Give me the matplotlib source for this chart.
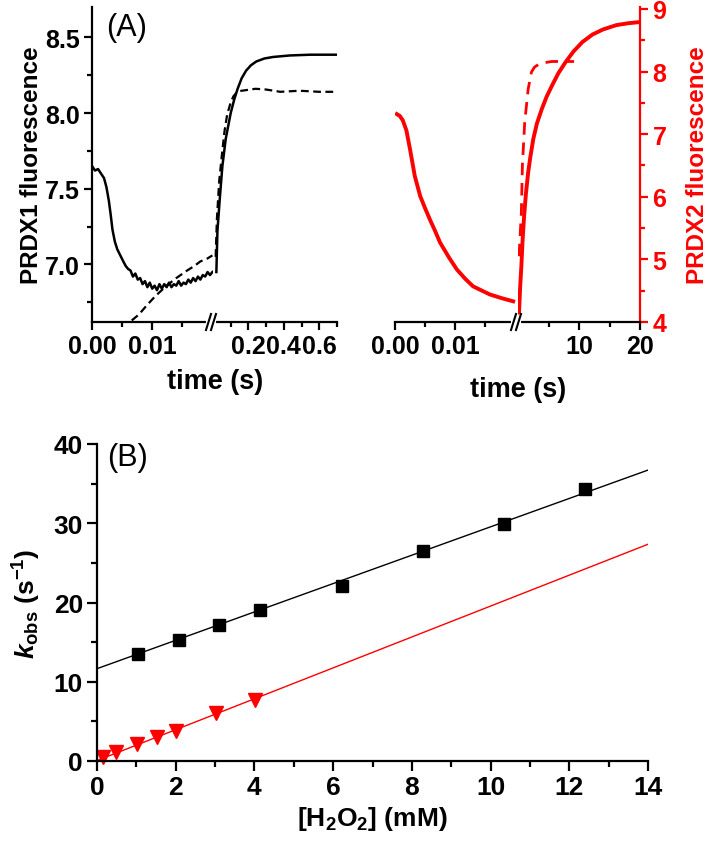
import numpy as np
import matplotlib.pyplot as plt
from matplotlib.ticker import FixedLocator, MultipleLocator, FormatStrFormatter

plt.rcParams['font.family'] = ['Liberation Sans', 'DejaVu Sans']
plt.rcParams['mathtext.fontset'] = 'custom'
plt.rcParams['mathtext.rm'] = 'Liberation Sans:bold'
plt.rcParams['mathtext.it'] = 'Liberation Sans:italic:bold'
plt.rcParams['mathtext.bf'] = 'Liberation Sans:bold'

# ---- panel A, PRDX1 (black) ----
# early segment (0 - 0.02 s)
p1_t_early = [0.0, 0.0005, 0.001, 0.0015, 0.002, 0.0024, 0.0028, 0.0031, 0.0034, 0.0038, 0.0042,
              0.0047, 0.0052, 0.0056,
              0.0060, 0.0064, 0.0068, 0.0072, 0.0076, 0.0080, 0.0084, 0.0088, 0.0092, 0.0096,
              0.0100, 0.0104, 0.0108, 0.0112, 0.0116, 0.0120, 0.0124, 0.0128, 0.0132, 0.0136,
              0.0140, 0.0144, 0.0148, 0.0152, 0.0156, 0.0160, 0.0164, 0.0168, 0.0172, 0.0176,
              0.0180, 0.0184, 0.0188, 0.0192, 0.0196, 0.0200]
p1_solid_early = [7.65, 7.62, 7.63, 7.60, 7.57, 7.51, 7.42, 7.33, 7.23, 7.15, 7.10,
                  7.06, 7.02, 6.99,
                  6.97, 6.96, 6.92, 6.94, 6.90, 6.91, 6.87, 6.89, 6.85, 6.88,
                  6.84, 6.86, 6.83, 6.87, 6.84, 6.87, 6.85, 6.88, 6.85, 6.87,
                  6.86, 6.89, 6.86, 6.88, 6.87, 6.90, 6.88, 6.91, 6.89, 6.92,
                  6.90, 6.93, 6.92, 6.95, 6.93, 6.95]
p1_t_dash_early = [0.0066, 0.0078, 0.0091, 0.0105, 0.0124, 0.014, 0.0158, 0.017, 0.018, 0.0192, 0.0200]
p1_dash_early = [6.63, 6.67, 6.73, 6.79, 6.86, 6.91, 6.96, 6.99, 7.02, 7.04, 7.06]
# late segment (0 - 0.7 s)
p1_t_late = [0.019, 0.025, 0.038, 0.053, 0.072, 0.10, 0.12, 0.139, 0.162, 0.187, 0.214, 0.244,
             0.29, 0.339, 0.434, 0.55, 0.70]
p1_solid_late = [6.95, 7.22, 7.43, 7.65, 7.83, 8.00, 8.09, 8.16, 8.23, 8.28, 8.315, 8.34,
                 8.36, 8.37, 8.38, 8.385, 8.385]
p1_t_dash_late = [0.015, 0.022, 0.035, 0.05, 0.065, 0.08, 0.10, 0.115, 0.13, 0.15, 0.18, 0.24,
                  0.30, 0.38, 0.49, 0.60, 0.70]
p1_dash_late = [7.05, 7.30, 7.55, 7.72, 7.88, 7.99, 8.07, 8.11, 8.13, 8.145, 8.15, 8.16,
                8.155, 8.14, 8.147, 8.14, 8.14]

# ---- panel A, PRDX2 (red) ----
p2_t_early = [0.0003, 0.0008, 0.0013, 0.0019, 0.0025, 0.0033, 0.0042, 0.005, 0.0058, 0.0067,
              0.0075, 0.009, 0.0103, 0.0117, 0.013, 0.0145, 0.0158, 0.0178, 0.0197]
p2_solid_early = [7.32, 7.29, 7.22, 7.06, 6.76, 6.33, 6.01, 5.82, 5.64, 5.45,
                  5.27, 5.03, 4.84, 4.69, 4.57, 4.50, 4.44, 4.38, 4.33]
p2_t_late = [0.17, 0.35, 0.55, 0.75, 1.0, 1.3, 1.67, 2.0, 2.5, 3.1, 3.9, 4.7, 5.55, 6.6, 7.8,
             9.1, 10.55, 12.2, 13.9, 16.1, 18.0, 20.0]
p2_solid_late = [4.15, 4.55, 4.89, 5.30, 5.69, 6.05, 6.39, 6.62, 6.92, 7.17, 7.40, 7.60, 7.77,
                 7.97, 8.15, 8.32, 8.47, 8.59, 8.67, 8.74, 8.77, 8.79]
p2_t_dash_late = [0.17, 0.55, 0.72, 1.1, 1.67, 2.2, 2.7, 3.33, 4.3, 5.55, 9.2]
p2_dash_late = [5.05, 5.75, 6.50, 7.19, 7.72, 7.99, 8.07, 8.11, 8.14, 8.16, 8.16]

# ---- panel B ----
h2o2_prdx1 = [1.04, 2.09, 3.1, 4.15, 6.22, 8.28, 10.33, 12.4]
kobs_prdx1 = [13.5, 15.3, 17.1, 19.0, 22.1, 26.5, 29.9, 34.3]
h2o2_prdx2 = [0.16, 0.48, 1.01, 1.52, 2.01, 3.03, 4.02]
kobs_prdx2 = [0.5, 1.1, 2.15, 3.0, 3.8, 6.1, 7.7]
fit_prdx1 = [1.79, 11.65]   # slope, intercept
fit_prdx2 = [1.95, 0.05]
fit_range = [0, 14]

RED = '#ff0000'
W, H = 709, 853
fig = plt.figure(figsize=(W / 100, H / 100), dpi=100)


def fpos(x0, x1, y0, y1):
    # pixel box -> figure fraction
    return [x0 / W, 1 - y1 / H, (x1 - x0) / W, (y1 - y0) / H]


def style(ax, size):
    for s in ['top', 'right', 'left', 'bottom']:
        ax.spines[s].set_visible(False)
        ax.spines[s].set_linewidth(1.6)
    ax.spines['bottom'].set_visible(True)
    ax.tick_params(which='major', length=6, width=1.6, labelsize=size, direction='out', pad=3)
    ax.tick_params(which='minor', length=3.5, width=1.6, direction='out')
    for lab in ax.get_xticklabels() + ax.get_yticklabels():
        lab.set_fontweight('bold')


def break_marks(ax):
    pos = ax.get_position()
    wpx = pos.width * W
    hpx = pos.height * H
    dx, dy = 2.5 / wpx, 8.0 / hpx
    ax.plot([-5 / wpx, 1 / wpx], [0, 0], color='white', lw=3, transform=ax.transAxes,
            clip_on=False, zorder=4)
    for off in (-4.5 / wpx, 0.5 / wpx):
        ax.plot([off - dx, off + dx], [-dy, dy], color='black', lw=1.5,
                transform=ax.transAxes, clip_on=False, zorder=5)


# ---------- panel A left (PRDX1) ----------
ylim1 = (6.62, 8.70)
a1 = fig.add_axes(fpos(92, 213, 8, 323))
a2 = fig.add_axes(fpos(213, 337, 8, 323))
a1.plot(p1_t_early, p1_solid_early, color='black', lw=1.8)
a1.plot(p1_t_dash_early, p1_dash_early, color='black', lw=1.6, dashes=(3.5, 2))
a2.plot(p1_t_late, p1_solid_late, color='black', lw=1.8)
a2.plot(p1_t_dash_late, p1_dash_late, color='black', lw=1.6, dashes=(3.5, 2))
for ax in (a1, a2):
    ax.set_ylim(*ylim1)
    ax.patch.set_alpha(0)
a1.set_xlim(0, 0.0201)
a2.set_xlim(0, 0.70)
a1.xaxis.set_major_locator(FixedLocator([0.0, 0.01]))
a1.xaxis.set_minor_locator(FixedLocator([0.005, 0.015]))
a1.xaxis.set_major_formatter(FormatStrFormatter('%.2f'))
a2.xaxis.set_major_locator(FixedLocator([0.2, 0.4, 0.6]))
a2.xaxis.set_minor_locator(FixedLocator([0.1, 0.3, 0.5, 0.7]))
a2.xaxis.set_major_formatter(FormatStrFormatter('%.1f'))
a1.yaxis.set_major_locator(FixedLocator([7.0, 7.5, 8.0, 8.5]))
a1.yaxis.set_minor_locator(FixedLocator([6.75, 7.25, 7.75, 8.25]))
a1.yaxis.set_major_formatter(FormatStrFormatter('%.1f'))
a2.set_yticks([])
style(a1, 18)
style(a2, 18)
a1.spines['left'].set_visible(True)
a2.tick_params(axis='y', which='both', left=False, labelleft=False)
break_marks(a2)
a1.set_ylabel('PRDX1 fluorescence', fontsize=17.5, fontweight='bold', labelpad=1)
fig.text(215 / W, 1 - 382 / H, 'time (s)', fontsize=19.5, fontweight='bold', ha='center', va='center')
a1.text(0.115, 0.937, '(A)', transform=a1.transAxes, fontsize=22, ha='left', va='center')

# ---------- panel A right (PRDX2) ----------
ylim2 = (4.0, 9.03)
b1 = fig.add_axes(fpos(395, 518, 8, 323))
b2 = fig.add_axes(fpos(518, 640, 8, 323))
b1.plot(p2_t_early, p2_solid_early, color=RED, lw=2.8)
b2.plot(p2_t_late, p2_solid_late, color=RED, lw=2.8)
b2.plot(p2_t_dash_late, p2_dash_late, color=RED, lw=2.0, dashes=(4.5, 2.8))
for ax in (b1, b2):
    ax.set_ylim(*ylim2)
    ax.patch.set_alpha(0)
b1.set_xlim(0, 0.0205)
b2.set_xlim(0, 20)
b1.xaxis.set_major_locator(FixedLocator([0.0, 0.01]))
b1.xaxis.set_minor_locator(FixedLocator([0.005, 0.015]))
b1.xaxis.set_major_formatter(FormatStrFormatter('%.2f'))
b2.xaxis.set_major_locator(FixedLocator([10, 20]))
b2.xaxis.set_minor_locator(FixedLocator([5, 15]))
b1.set_yticks([])
b2.yaxis.set_major_locator(MultipleLocator(1))
b2.yaxis.set_minor_locator(MultipleLocator(0.5))
style(b1, 18)
style(b2, 18)
b1.tick_params(axis='y', which='both', left=False, labelleft=False)
b2.spines['right'].set_visible(True)
b2.spines['right'].set_color(RED)
b2.yaxis.tick_right()
b2.tick_params(axis='y', which='both', colors=RED, left=False, right=True, labelleft=False, labelright=True)
for lab in b2.get_yticklabels():
    lab.set_fontweight('bold')
    lab.set_color(RED)
b2.yaxis.set_label_position('right')
b2.set_ylabel('PRDX2 fluorescence', fontsize=17.5, fontweight='bold', color=RED, labelpad=14)
break_marks(b2)
fig.text(518 / W, 1 - 390 / H, 'time (s)', fontsize=19.5, fontweight='bold', ha='center', va='center')

# ---------- panel B ----------
c = fig.add_axes(fpos(97, 648, 445, 762))
xf = np.array(fit_range, dtype=float)
c.plot(xf, np.polyval(fit_prdx1, xf), color='black', lw=1.0)
c.plot(xf, np.polyval(fit_prdx2, xf), color=RED, lw=1.0)
c.plot(h2o2_prdx1, kobs_prdx1, 's', color='black', ms=8.5, clip_on=False)
c.plot(h2o2_prdx2, kobs_prdx2, 'v', color=RED, ms=10, clip_on=False)
c.set_xlim(0, 14)
c.set_ylim(0, 40)
c.xaxis.set_major_locator(MultipleLocator(2))
c.xaxis.set_minor_locator(MultipleLocator(1))
c.yaxis.set_major_locator(MultipleLocator(10))
c.yaxis.set_minor_locator(MultipleLocator(5))
style(c, 19)
c.spines['left'].set_visible(True)
c.tick_params(which='major', length=7)
c.tick_params(which='minor', length=4.5)
c.set_xlabel(r'$[\mathrm{H_2O_2}]$ (mM)', fontsize=19, fontweight='bold', labelpad=4)
c.set_ylabel(r'$k_{\mathrm{obs}}$ (s$^{\mathrm{-1}}$)', fontsize=19, fontweight='bold', labelpad=8)
c.text(0.018, 0.96, '(B)', transform=c.transAxes, fontsize=22, ha='left', va='center')

fig.savefig('out.png', dpi=100)
